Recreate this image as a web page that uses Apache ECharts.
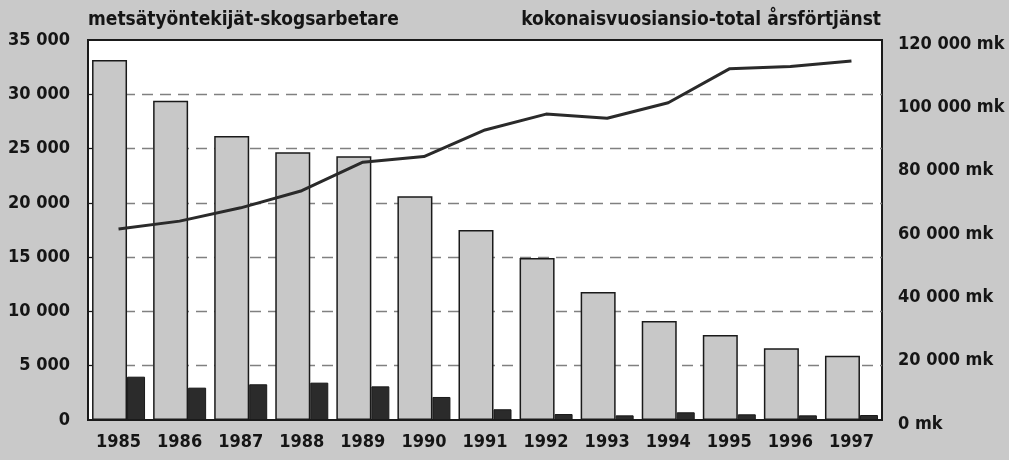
<!DOCTYPE html>
<html>
<head>
<meta charset="utf-8">
<script src="https://cdn.jsdelivr.net/npm/echarts@6/dist/echarts.min.js"></script>
<style>
html,body{margin:0;padding:0;background:#c9c9c9;}
#c{width:1009px;height:460px;}
</style>
</head>
<body>
<div id="c"></div>
<script>
const years = ['1985','1986','1987','1988','1989','1990','1991','1992','1993','1994','1995','1996','1997'];
const workersTotal = [33150, 29400, 26150, 24650, 24300, 20600, 17500, 14920, 11800, 9120, 7830, 6600, 5920];
const workersSecond = [3990, 2980, 3290, 3440, 3100, 2120, 990, 550, 430, 710, 525, 430, 460];
const annualEarnings = [60300, 62800, 67000, 72400, 81400, 83200, 91600, 96600, 95300, 100200, 110900, 111600, 113400];
const leftTitle = 'metsätyöntekijät-skogsarbetare';
const rightTitle = 'kokonaisvuosiansio-total årsförtjänst';

const FONT = '"Liberation Sans Narrow", "DejaVu Sans Condensed", "Liberation Sans", sans-serif';
function fmt(v){ return String(v).replace(/\B(?=(\d{3})+(?!\d))/g, ' '); }

const chart = echarts.init(document.getElementById('c'), null, {renderer:'canvas'});
chart.setOption({
  backgroundColor: '#c9c9c9',
  animation: false,
  textStyle: {fontFamily: FONT},
  graphic: [
    {type:'text', left: 88, top: 11, style:{text: leftTitle, font: 'bold 19px ' + FONT, fill:'#151515'}},
    {type:'text', right: 128, top: 11, style:{text: rightTitle, font: 'bold 19px ' + FONT, fill:'#151515'}}
  ],
  grid: {left: 88, right: 127, top: 40, bottom: 40, show: true, backgroundColor: '#ffffff', borderColor: '#1a1a1a', borderWidth: 2},
  xAxis: {
    type: 'category', data: years,
    axisLine: {show: true, lineStyle: {color: '#1a1a1a', width: 2}},
    axisTick: {show: false},
    axisLabel: {color: '#151515', fontSize: 18, fontWeight: 'bold', fontFamily: FONT, margin: 13}
  },
  yAxis: [
    {
      type: 'value', min: 0, max: 35000, interval: 5000,
      axisLine: {show: true, lineStyle: {color: '#1a1a1a', width: 2}},
      axisTick: {show: true, inside: true, length: 4, lineStyle: {color: '#1a1a1a'}},
      axisLabel: {color: '#151515', fontSize: 18, fontWeight: 'bold', fontFamily: FONT, margin: 18, formatter: v => fmt(v)},
      splitLine: {show: true, showMinLine: false, showMaxLine: false, lineStyle: {color: '#808080', type: [11, 7], width: 1.3}}
    },
    {
      type: 'value', min: 0, max: 120000, interval: 20000, position: 'right',
      axisLine: {show: false},
      axisTick: {show: false},
      axisLabel: {color: '#151515', fontSize: 18, fontWeight: 'bold', fontFamily: FONT, margin: 16, verticalAlign: 'top', lineHeight: 18, padding: [-5, 0, 0, 0], formatter: v => fmt(v) + ' mk'},
      splitLine: {show: false}
    }
  ],
  series: [
    {
      type: 'bar', data: workersTotal, barWidth: 35, barGap: '0%', z: 2,
      itemStyle: {color: '#c8c8c8', borderColor: '#1a1a1a', borderWidth: 1.5}
    },
    {
      type: 'bar', data: workersSecond, barWidth: 18, barGap: '0%', z: 2,
      itemStyle: {color: '#2b2b2b', borderColor: '#1a1a1a', borderWidth: 1}
    },
    {
      type: 'line', yAxisIndex: 1, data: annualEarnings, symbol: 'none', z: 5,
      lineStyle: {color: '#2a2a2a', width: 3}
    }
  ]
});
</script>
</body>
</html>
